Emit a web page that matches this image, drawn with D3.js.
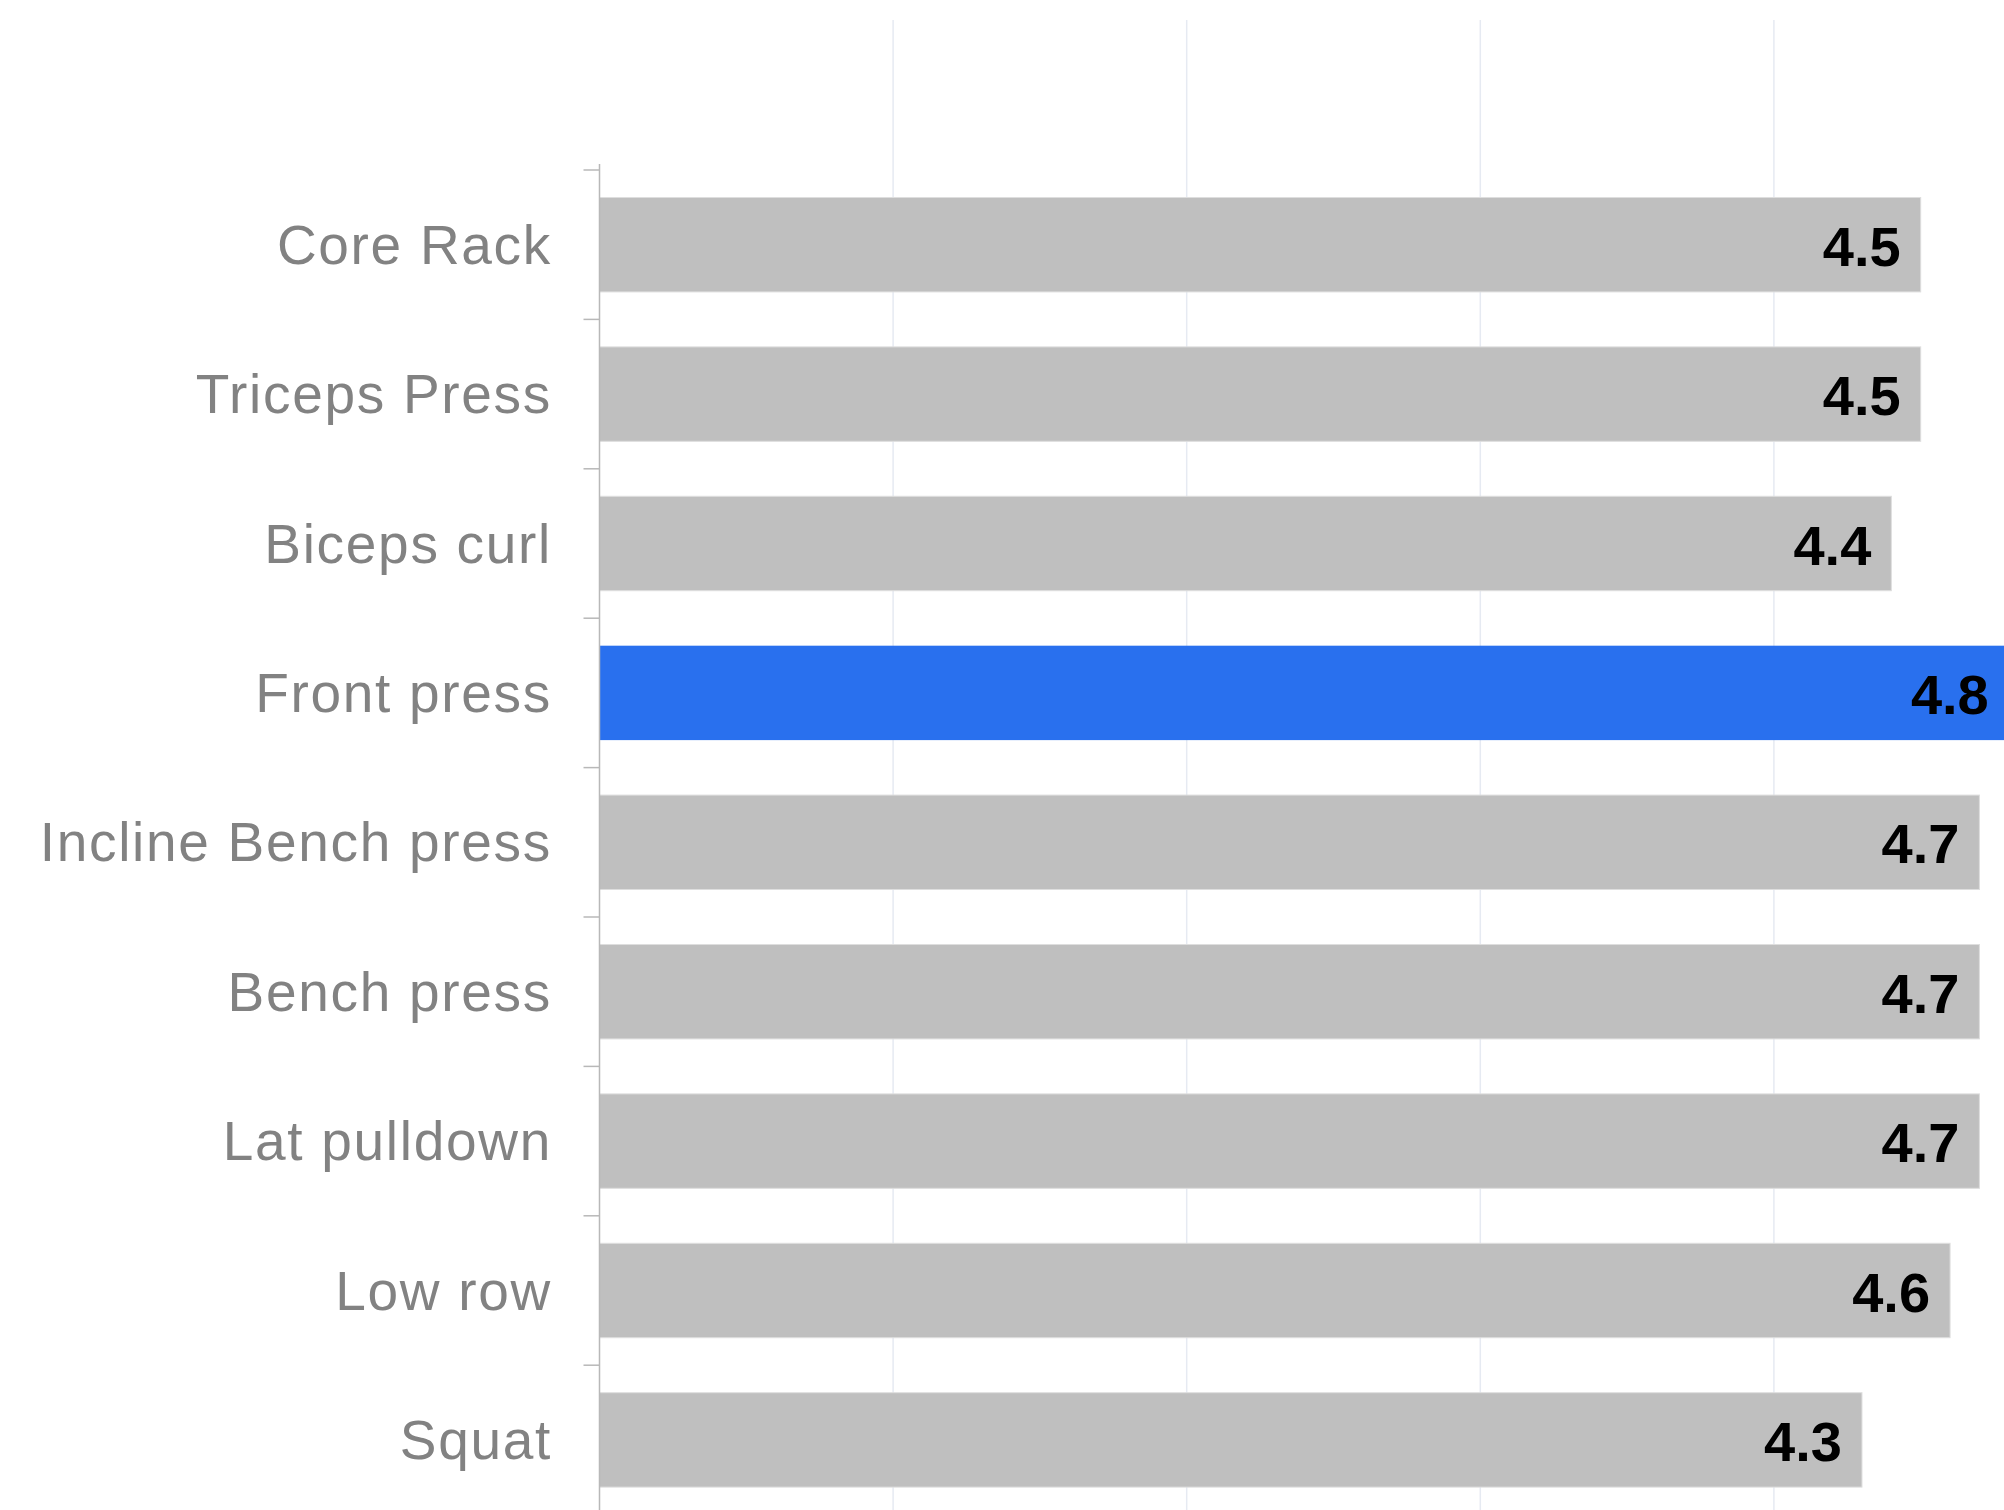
<!DOCTYPE html>
<html>
<head>
<meta charset="utf-8">
<script src="https://cdn.jsdelivr.net/npm/d3@7"></script>
<style>
  html, body { margin: 0; padding: 0; background: #ffffff; overflow: hidden; }
  svg { display: block; }
</style>
</head>
<body>
<svg id="chart" width="2004" height="1510"></svg>
<script>
const categories = ["Core Rack", "Triceps Press", "Biceps curl", "Front press", "Incline Bench press", "Bench press", "Lat pulldown", "Low row", "Squat"];
const values = [4.5, 4.5, 4.4, 4.8, 4.7, 4.7, 4.7, 4.6, 4.3];
const highlighted = ["Front press"];
const gridTicks = [1, 2, 3, 4];

const W = 2004, H = 1510;
const svg = d3.select("#chart");

const axisX = 599.5;
const x = d3.scaleLinear().domain([0, 5]).range([axisX, axisX + 5 * 293.6]);

const y = d3.scaleBand()
  .domain(categories)
  .range([170, 170 + categories.length * 149.4])
  .paddingInner(0.368)
  .paddingOuter(0.184);

const data = categories.map((c, i) => ({ cat: c, val: values[i] }));

// gridlines
svg.append("g")
  .selectAll("line")
  .data(gridTicks)
  .join("line")
  .attr("x1", d => x(d)).attr("x2", d => x(d))
  .attr("y1", 20).attr("y2", H)
  .attr("stroke", "#e6eaf2")
  .attr("stroke-width", 1.5);

// bars
svg.append("g")
  .selectAll("rect")
  .data(data)
  .join("rect")
  .attr("x", x(0))
  .attr("y", d => y(d.cat))
  .attr("width", d => x(d.val) - x(0))
  .attr("height", y.bandwidth())
  .attr("fill", d => highlighted.includes(d.cat) ? "#2970ee" : "#bfbfbf")
  .attr("stroke", d => highlighted.includes(d.cat) ? "none" : "#dedede")
  .attr("stroke-width", 1);

// axis line
svg.append("line")
  .attr("x1", axisX).attr("x2", axisX)
  .attr("y1", 164).attr("y2", H)
  .attr("stroke", "#b8b8b8")
  .attr("stroke-width", 1.5);

// category boundary ticks
const boundaries = categories.map(c => y(c) - y.step() * y.paddingOuter()).concat([y.range()[1]]);
svg.append("g")
  .selectAll("line")
  .data(boundaries)
  .join("line")
  .attr("x1", axisX - 16).attr("x2", axisX)
  .attr("y1", d => d).attr("y2", d => d)
  .attr("stroke", "#b8b8b8")
  .attr("stroke-width", 1.5);

// category labels
svg.append("g")
  .selectAll("text")
  .data(data)
  .join("text")
  .attr("x", 552)
  .attr("y", d => y(d.cat) + y.bandwidth() / 2 + 19)
  .attr("text-anchor", "end")
  .attr("font-family", "'Liberation Sans', Arial, sans-serif")
  .attr("font-size", 55)
  .attr("letter-spacing", 1.7)
  .attr("fill", "#828282")
  .text(d => d.cat);

// value labels
svg.append("g")
  .selectAll("text")
  .data(data)
  .join("text")
  .attr("x", d => x(d.val) - 20)
  .attr("y", d => y(d.cat) + y.bandwidth() / 2 + 21)
  .attr("text-anchor", "end")
  .attr("font-family", "'Liberation Sans', Arial, sans-serif")
  .attr("font-weight", "bold")
  .attr("font-size", 56)
  .attr("fill", "#000000")
  .text(d => d3.format(".1f")(d.val));
</script>
</body>
</html>
